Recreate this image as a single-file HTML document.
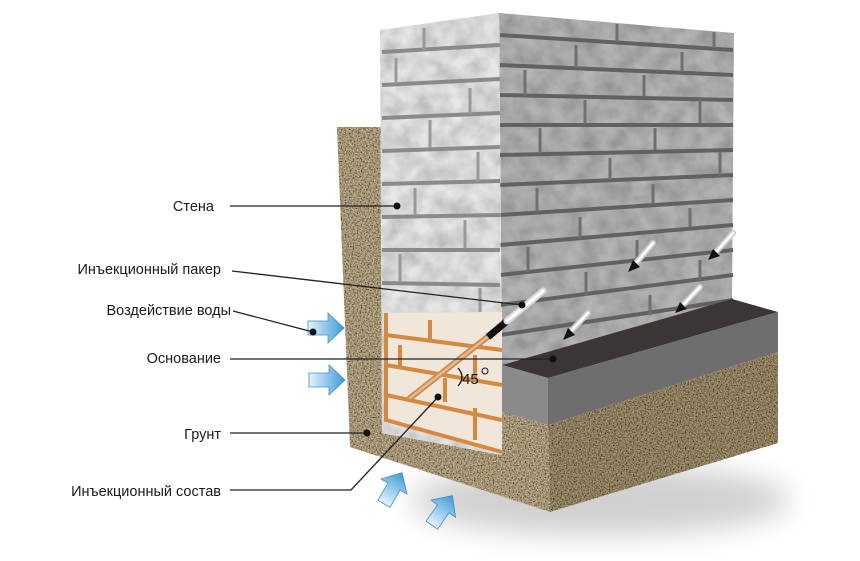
<!DOCTYPE html>
<html><head><meta charset="utf-8"><style>
html,body{margin:0;padding:0;background:#fff;}
svg{display:block;}
text{font-family:"Liberation Sans","DejaVu Sans",sans-serif;font-size:14.5px;fill:#1a1a1a;}
</style></head><body>
<svg width="860" height="561" viewBox="0 0 860 561" xmlns="http://www.w3.org/2000/svg">
<defs>
  <filter id="grav" x="0" y="0" width="100%" height="100%">
    <feTurbulence type="fractalNoise" baseFrequency="0.75" numOctaves="2" seed="3"/>
    <feColorMatrix type="matrix" values="1.8 0 0 0 -0.35  1.8 0 0 0 -0.35  1.8 0 0 0 -0.35  0 0 0 0 1"/>
    <feComposite in2="SourceGraphic" operator="in" result="n"/>
    <feBlend in="SourceGraphic" in2="n" mode="multiply"/>
  </filter>
  <filter id="blur" x="-30%" y="-30%" width="160%" height="160%"><feGaussianBlur stdDeviation="14"/></filter>
  <filter id="tex" x="0" y="0" width="100%" height="100%">
    <feTurbulence type="fractalNoise" baseFrequency="0.06" numOctaves="3" seed="7"/>
    <feColorMatrix type="matrix" values="0.6 0 0 0 0.55  0.6 0 0 0 0.55  0.6 0 0 0 0.55  0 0 0 0 1"/>
    <feComposite in2="SourceGraphic" operator="in" result="n"/>
    <feBlend in="SourceGraphic" in2="n" mode="multiply"/>
  </filter>
  <linearGradient id="blue" x1="0" y1="0" x2="1" y2="0">
    <stop offset="0" stop-color="#e6f3fb"/><stop offset="1" stop-color="#3d9ad6"/>
  </linearGradient>
</defs>

<!-- shadow -->
<ellipse cx="600" cy="500" rx="190" ry="36" fill="#000" opacity="0.18" filter="url(#blur)"/>

<!-- soil -->
<g filter="url(#grav)">
  <polygon points="337,127 382,127 382,433 502,455 502,412 548,425 550,512 350,447" fill="#d6c29a"/>
  <polygon points="548,425 778,352 778,443 550,512" fill="#b8a47c"/>
</g>

<!-- wall right face -->
<g filter="url(#tex)">
  <polygon points="499,13 734,33 732,299 502,365" fill="#b4b4b4"/>
</g>
<g stroke="#616161" stroke-width="4" fill="none">
  <line x1="500" y1="35" x2="733" y2="50"/>
  <line x1="500" y1="65" x2="733" y2="75"/>
  <line x1="500" y1="95" x2="733" y2="100"/>
  <line x1="500" y1="125" x2="733" y2="125"/>
  <line x1="500" y1="155" x2="733" y2="150"/>
  <line x1="500" y1="185" x2="733" y2="175"/>
  <line x1="500" y1="215" x2="733" y2="200"/>
  <line x1="500" y1="245" x2="733" y2="225"/>
  <line x1="500" y1="275" x2="733" y2="250"/>
  <line x1="500" y1="305" x2="733" y2="275"/>
  <line x1="500" y1="335" x2="733" y2="300"/>
</g>
<g stroke="#707070" stroke-width="3">
  <line x1="617" y1="24" x2="617" y2="42"/><line x1="714" y1="32" x2="714" y2="48"/>
  <line x1="576" y1="45" x2="576" y2="68"/><line x1="682" y1="52" x2="682" y2="72"/>
  <line x1="525" y1="70" x2="525" y2="96"/><line x1="644" y1="75" x2="644" y2="96"/>
  <line x1="585" y1="100" x2="585" y2="124"/><line x1="700" y1="100" x2="700" y2="123"/>
  <line x1="540" y1="128" x2="540" y2="152"/><line x1="655" y1="128" x2="655" y2="150"/>
  <line x1="610" y1="158" x2="610" y2="180"/><line x1="720" y1="152" x2="720" y2="175"/>
  <line x1="537" y1="188" x2="537" y2="212"/><line x1="653" y1="184" x2="653" y2="204"/>
  <line x1="580" y1="217" x2="580" y2="239"/><line x1="690" y1="208" x2="690" y2="227"/>
  <line x1="528" y1="247" x2="528" y2="272"/><line x1="637" y1="240" x2="637" y2="262"/>
  <line x1="586" y1="272" x2="586" y2="295"/><line x1="700" y1="260" x2="700" y2="280"/>
  <line x1="650" y1="295" x2="650" y2="315"/>
</g>

<!-- wall front face -->
<g filter="url(#tex)">
  <polygon points="380,30 499,13 502,455 382,433" fill="#e6e6e6"/>
</g>
<g stroke="#8a8a8a" stroke-width="4" fill="none">
  <line x1="382" y1="52" x2="500" y2="45"/>
  <line x1="382" y1="85" x2="500" y2="79"/>
  <line x1="382" y1="118" x2="500" y2="113"/>
  <line x1="382" y1="151" x2="500" y2="147"/>
  <line x1="382" y1="184" x2="500" y2="181"/>
  <line x1="382" y1="217" x2="500" y2="215"/>
  <line x1="382" y1="250" x2="500" y2="250"/>
  <line x1="382" y1="283" x2="500" y2="285"/>
</g>
<g stroke="#999" stroke-width="3">
  <line x1="424" y1="28" x2="424" y2="50"/><line x1="396" y1="58" x2="396" y2="84"/>
  <line x1="470" y1="88" x2="470" y2="114"/><line x1="430" y1="120" x2="430" y2="148"/>
  <line x1="478" y1="152" x2="478" y2="182"/><line x1="415" y1="188" x2="415" y2="215"/>
  <line x1="465" y1="220" x2="465" y2="248"/><line x1="400" y1="254" x2="400" y2="282"/>
  <line x1="480" y1="288" x2="480" y2="312"/>
</g>

<!-- orange injected zone -->
<polygon points="385,313 502,312 502,452 385,420" fill="#f1e6da"/>
<g stroke="#d3893e" stroke-width="4" fill="none">
  <polyline points="386,313 386,420 502,452"/>
  <line x1="386" y1="335" x2="502" y2="350"/>
  <line x1="386" y1="365" x2="502" y2="385"/>
  <line x1="386" y1="395" x2="502" y2="420"/>
  <line x1="430" y1="320" x2="430" y2="342"/>
  <line x1="400" y1="345" x2="400" y2="368"/>
  <line x1="475" y1="355" x2="475" y2="380"/>
  <line x1="445" y1="378" x2="445" y2="402"/>
  <line x1="475" y1="408" x2="475" y2="440"/>
</g>

<!-- slab -->
<polygon points="502,365 732,299 778,312 548,378" fill="#3b3533"/>
<polygon points="502,365 548,378 548,425 502,412" fill="#8a8a8a"/>
<polygon points="548,378 778,312 778,352 548,425" fill="#6e6e6e"/>

<!-- main packer -->
<line x1="410" y1="398" x2="490" y2="335" stroke="#c98a52" stroke-width="6" stroke-linecap="round"/>
<line x1="410" y1="398" x2="490" y2="335" stroke="#e9b987" stroke-width="2.5" stroke-linecap="round"/>
<line x1="488" y1="337" x2="507" y2="321" stroke="#111" stroke-width="7"/>
<line x1="507" y1="321" x2="543" y2="291" stroke="#d8d8d8" stroke-width="7" stroke-linecap="round"/>
<line x1="507" y1="321" x2="543" y2="291" stroke="#fff" stroke-width="3" stroke-linecap="round"/>

<!-- small packers -->
<g>
  <g stroke-linecap="round">
    <line x1="636" y1="263" x2="653" y2="243" stroke="#ccc" stroke-width="6"/><line x1="636" y1="263" x2="653" y2="243" stroke="#fff" stroke-width="2.5"/>
    <line x1="716" y1="252" x2="733" y2="233" stroke="#ccc" stroke-width="6"/><line x1="716" y1="252" x2="733" y2="233" stroke="#fff" stroke-width="2.5"/>
    <line x1="683" y1="305" x2="700" y2="287" stroke="#ccc" stroke-width="6"/><line x1="683" y1="305" x2="700" y2="287" stroke="#fff" stroke-width="2.5"/>
    <line x1="571" y1="331" x2="588" y2="313" stroke="#ccc" stroke-width="6"/><line x1="571" y1="331" x2="588" y2="313" stroke="#fff" stroke-width="2.5"/>
  </g>
  <polygon points="628,272 633,260 640,267" fill="#111"/>
  <polygon points="708,260 713,249 720,256" fill="#111"/>
  <polygon points="675,313 680,302 687,309" fill="#111"/>
  <polygon points="563,340 568,328 575,335" fill="#111"/>
</g>

<!-- 45 -->
<path d="M458,368 Q466,377 458,386" fill="none" stroke="#111" stroke-width="1.3"/>
<text x="462" y="384" style="font-size:15px">45</text>
<circle cx="485" cy="371" r="3" fill="none" stroke="#111" stroke-width="1"/>

<!-- blue arrows -->
<g stroke="#3d8fc8" stroke-width="0.8">
  <polygon points="308,321 328,321 328,313 344,328 328,343 328,335 308,335" fill="url(#blue)"/>
  <polygon points="309,373 329,373 329,365 345,380 329,395 329,387 309,387" fill="url(#blue)"/>
  <g transform="translate(392,490) rotate(-60)"><polygon points="-16,-7 4,-7 4,-15 20,0 4,15 4,7 -16,7" fill="url(#blue)"/></g>
  <g transform="translate(441,512) rotate(-55)"><polygon points="-16,-7 4,-7 4,-15 20,0 4,15 4,7 -16,7" fill="url(#blue)"/></g>
</g>

<!-- leader lines -->
<g stroke="#222" stroke-width="1.3" fill="none">
  <line x1="230" y1="206" x2="397" y2="206"/>
  <line x1="232" y1="271" x2="522" y2="305"/>
  <line x1="233" y1="311" x2="313" y2="332"/>
  <line x1="230" y1="359" x2="553" y2="359"/>
  <line x1="230" y1="433" x2="367" y2="433"/>
  <polyline points="230,490 351,490 438,397"/>
</g>
<g fill="#111">
  <circle cx="397" cy="206" r="3.5"/><circle cx="522" cy="305" r="3.5"/>
  <circle cx="313" cy="332" r="3.5"/><circle cx="553" cy="359" r="3.5"/>
  <circle cx="367" cy="433" r="3.5"/><circle cx="438" cy="397" r="3.5"/>
</g>

<!-- labels -->
<g text-anchor="end">
  <text x="214" y="211">Стена</text>
  <text x="221" y="274">Инъекционный пакер</text>
  <text x="231" y="315">Воздействие воды</text>
  <text x="221" y="363">Основание</text>
  <text x="221" y="439">Грунт</text>
  <text x="221" y="496">Инъекционный состав</text>
</g>
</svg>
</body></html>
